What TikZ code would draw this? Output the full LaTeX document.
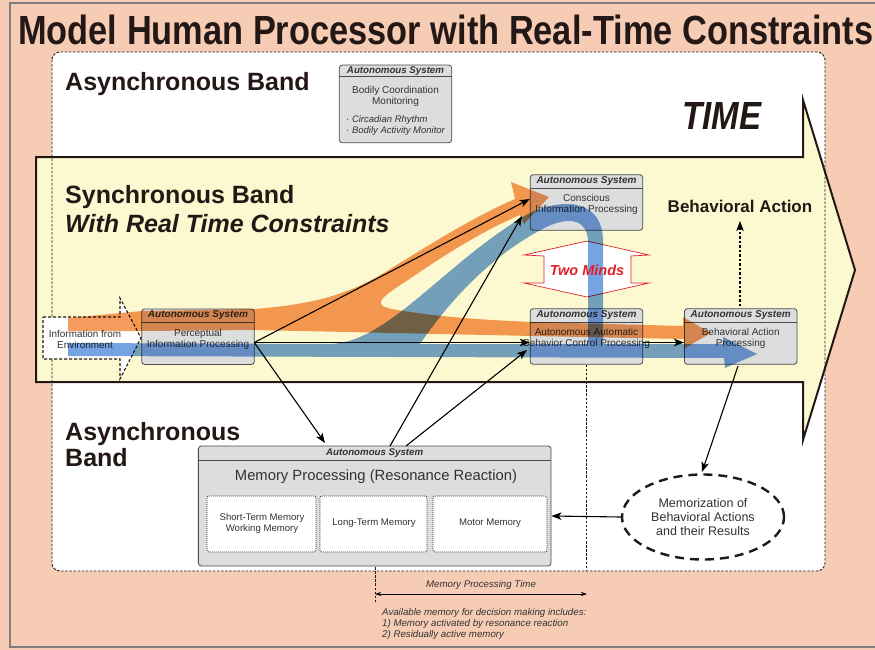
\documentclass[tikz,border=0pt]{standalone}
\usepackage{fontspec}
\usepackage{graphicx}
\setmainfont{Liberation Sans}
\usetikzlibrary{arrows.meta,shapes.geometric}
\definecolor{salmon}{RGB}{246,205,180}
\definecolor{bandyellow}{RGB}{252,249,208}
\definecolor{boxgray}{RGB}{220,221,221}
\definecolor{boxline}{RGB}{75,75,75}
\definecolor{framegray}{RGB}{125,125,125}
\definecolor{flowor}{RGB}{245,155,95}
\definecolor{flowbl}{RGB}{118,163,226}
\definecolor{mindred}{RGB}{225,30,40}
\definecolor{txtdark}{RGB}{35,24,21}
\definecolor{txtgray}{RGB}{50,50,50}
\tikzset{
  sysbox/.style={draw=boxline, fill=boxgray, rounded corners=3pt, line width=0.8pt, inner sep=0pt,
    minimum width=112.6pt, minimum height=55.6pt},
  hdrline/.style={draw=boxline, line width=0.8pt},
  hdr/.style={font=\fontsize{10}{12}\selectfont\bfseries\itshape, text=txtgray, inner sep=0pt},
  bodytxt/.style={font=\fontsize{10}{10.8}\selectfont, align=center, text=txtgray, inner sep=0pt},
  bigtxt/.style={font=\fontsize{25}{30}\selectfont\bfseries, text=txtdark, inner sep=0pt, anchor=base west},
  dashpat/.style={line width=0.9pt, dash pattern=on 2.5pt off 1.6pt, draw=txtdark},
  conn/.style={line width=1.1pt, draw=black, -{Stealth[length=10pt,width=7.5pt,inset=2.5pt]}},
  dotconn/.style={line width=1.1pt, draw=black, dash pattern=on 2.5pt off 2pt, -{Stealth[length=10pt,width=7.5pt,inset=2.5pt]}},
  memsub/.style={draw=txtgray, line width=0.7pt, dash pattern=on 1pt off 1pt, fill=white, rounded corners=2pt},
  memtxt/.style={font=\fontsize{9.6}{10.8}\selectfont, align=center, text=txtgray, inner sep=0pt},
  smallit/.style={font=\fontsize{9.7}{11}\selectfont\itshape, text=txtgray, inner sep=0pt},
}
\begin{document}
\begin{tikzpicture}[x=1pt,y=-1pt]
\useasboundingbox (0,0) rectangle (875,650);
\fill[salmon] (0,0) rectangle (875,650);
\draw[framegray, line width=2pt] (10,3) rectangle (890,647);
% title
\node[anchor=base west, inner sep=0pt, text=txtdark] (title) at (18,44.5)
  {\resizebox{855pt}{29.5pt}{\bfseries Model Human Processor with Real-Time Constraints}};
% white area
\fill[white, rounded corners=8pt] (52,52) rectangle (825,571);
% yellow band arrow
\draw[fill=bandyellow, line width=2pt, line join=miter, draw=txtdark]
  (36,157) -- (803,157) -- (803,100) -- (855,270) -- (803,440) -- (803,382) -- (36,382) -- cycle;
% dashed outline
\draw[dashpat, rounded corners=8pt] (52,52) rectangle (825,571);
% band texts
\node[bigtxt] (async1) at (65,91) {Asynchronous Band};
\node[bigtxt] (sync1) at (65,203) {Synchronous Band};
\node[bigtxt, font=\fontsize{25}{30}\selectfont\bfseries\itshape] (sync2) at (65,232) {With Real Time Constraints};
\node[bigtxt] (async2) at (65,440) {Asynchronous};
\node[bigtxt] (async3) at (65,466) {Band};
\node[anchor=base, inner sep=0pt, text=txtdark] (time) at (722,130)
  {\resizebox{79pt}{27pt}{\bfseries\itshape TIME}};
\node[anchor=base, inner sep=0pt, text=txtdark, font=\fontsize{17}{20}\selectfont\bfseries] (bact) at (740,212) {Behavioral Action};
% Bodily box
\node[sysbox, minimum width=112.4pt, minimum height=77.7pt] (bodily) at (395.5,103.9) {};
\draw[hdrline] ([yshift=-11.5pt]bodily.north west) -- ([yshift=-11.5pt]bodily.north east);
\node[hdr, font=\fontsize{9.7}{11}\selectfont\bfseries\itshape] (bodilyh) at ([yshift=-6pt]bodily.north) {Autonomous System};
\node[bodytxt] (bodilyt) at (395.5,96.5) {Bodily Coordination\\Monitoring};
\node[anchor=base west, inner sep=0pt, text=txtgray, font=\fontsize{9.5}{11}\selectfont] (bul1) at (346,122.5) {· \textit{Circadian Rhythm}};
\node[anchor=base west, inner sep=0pt, text=txtgray, font=\fontsize{9.5}{11}\selectfont] (bul2) at (346,133) {· \textit{Bodily Activity Monitor}};
% system boxes
\node[sysbox] (perc) at (198,336.7) {};
\node[sysbox] (consc) at (586.5,202.5) {};
\node[sysbox] (auto) at (586.5,336.5) {};
\node[sysbox] (behav) at (740.7,336.5) {};
\foreach \b in {perc,consc,auto,behav}{
  \draw[hdrline] ([yshift=-14pt]\b.north west) -- ([yshift=-14pt]\b.north east);
  \node[hdr] at ([yshift=-7pt]\b.north) {Autonomous System};
}
\node[bodytxt] (perct) at ([yshift=-2.5pt]perc.center) {Perceptual\\Information Processing};
\node[bodytxt] (consct) at ([yshift=-2.3pt]consc.center) {Conscious\\Information Processing};
\node[bodytxt] (autot) at ([yshift=-2.3pt]auto.center) {Autonomous Automatic\\Behavior Control Processing};
\node[bodytxt] (behavt) at ([yshift=-2.3pt]behav.center) {Behavioral Action\\Processing};
% dotted vertical
\coordinate (dvbot) at (586.5,571);
\draw[dashpat] (auto.south) -- (dvbot);
% information from environment
\draw[fill=white, line width=1.1pt, dash pattern=on 3pt off 2pt, draw=txtdark]
  (43,317) -- (120,317) -- (120,298) -- (141,338) -- (120,379) -- (120,359) -- (43,359) -- cycle;
\node[bodytxt, font=\fontsize{9.9}{11}\selectfont] (info) at (85,339.5) {Information from\\Environment};
% Two minds shape
\draw[mindred, line width=0.7pt, fill=white]
  (587,241) -- (649,255) -- (631,256) -- (631,283) -- (649,283) -- (587,297)
  -- (524,283) -- (544,283) -- (544,256) -- (524,255) -- cycle;
% flows
\begin{scope}[blend mode=multiply]
\fill[flowor] (68,318) -- (142,311) -- (254,309)
 .. controls (320,304) and (355,292) .. (395,266)
 .. controls (440,238) and (480,214) .. (515,199)
 -- (511,182) -- (549,197) -- (524,224) -- (520,215)
 .. controls (480,232) and (440,258) .. (405,282)
 .. controls (380,298) and (372,305) .. (392,309)
 .. controls (430,316) and (480,320) .. (533,322)
 -- (683,326) -- (683,317) -- (711,333) -- (685,348) -- (684,339)
 -- (533,336) -- (254,330) -- (142,331) -- (68,331) -- cycle;
\fill[flowbl, even odd rule] (68,343) -- (330,344)
 .. controls (388,343) and (445,262) .. (528,214)
 .. controls (555,200) and (600,195) .. (603,238) -- (603,344)
 -- (723,344) -- (723,337) -- (757,354) -- (725,368) -- (724,358) -- (68,356) -- cycle
 (420,344) -- (588,344) -- (588,240)
 .. controls (586,214) and (560,218) .. (537,232)
 .. controls (490,258) and (450,300) .. (420,344) -- cycle;
\end{scope}
\node[inner sep=0pt, text=mindred, font=\fontsize{14.5}{16}\selectfont\bfseries\itshape] (minds) at (587,270.5) {Two Minds};
% memory box
\node[sysbox, minimum width=352.7pt, minimum height=120pt] (memory) at (374.7,506) {};
\draw[hdrline] ([yshift=-14.7pt]memory.north west) -- ([yshift=-14.7pt]memory.north east);
\node[hdr, font=\fontsize{9.7}{11}\selectfont\bfseries\itshape] (memh) at ([yshift=-7.3pt]memory.north) {Autonomous System};
\node[inner sep=0pt, text=txtgray, font=\fontsize{14.8}{17}\selectfont] (memt) at (376,477) {Memory Processing (Resonance Reaction)};
\draw[memsub] (207,496) rectangle (316,552);
\draw[memsub] (320,496) rectangle (427,552);
\draw[memsub] (433,496) rectangle (547,552);
\node[memtxt] (stm) at (262,523.5) {Short-Term Memory\\Working Memory};
\node[memtxt] (ltm) at (374,523.5) {Long-Term Memory};
\node[memtxt] (mm) at (490,523.5) {Motor Memory};
% memorization ellipse
\node[ellipse, draw=txtdark, line width=2.4pt, dash pattern=on 9pt off 6pt, fill=white,
  minimum width=162pt, minimum height=85pt, inner sep=0pt, align=center, text=txtgray,
  font=\fontsize{12.5}{14}\selectfont] (memo) at (703,517) {Memorization of\\Behavioral Actions\\and their Results};
% connectors
\coordinate (pout) at (254.3,342.5);
\coordinate (mem1) at (390,446);
\coordinate (mem2) at (406,446);
\coordinate (memin) at (325,443);
\coordinate (consin2) at (522,216);
\coordinate (autoin2) at (527,350);
\coordinate (bactbot) at (740,221);
\coordinate (behtop) at (740,306);
\coordinate (behbot) at (738,366);
\coordinate (memotop) at (702,472);
\draw[conn] (pout) -- ([yshift=3.5pt]consc.west);
\draw[conn] (pout) -- ([yshift=-6pt]auto.west);
\draw[conn] (pout) -- (memin);
\draw[conn] (mem1) -- (consin2);
\draw[conn] (mem2) -- (autoin2);
\draw[conn] ([yshift=-6pt]auto.east) -- ([yshift=-6pt]behav.west);
\draw[dotconn] (behtop) -- (bactbot);
\draw[conn] (behbot) -- (memotop);
\draw[conn] (memo.west) -- ([yshift=-10pt]memory.east);
% memory processing time
\coordinate (mtl) at (375,594);
\coordinate (mtr) at (587,594);
\coordinate (mvt) at (375,567);
\coordinate (mvb) at (375,603);
\draw[dashpat] (mvt) -- (mvb);
\draw[line width=0.8pt, {Stealth[length=6pt,width=4pt]}-{Stealth[length=6pt,width=4pt]}] (mtl) -- (mtr);
\node[smallit, anchor=base] (mpt) at (481,587) {Memory Processing Time};
\node[smallit, anchor=base west] (av1) at (382,615.5) {Available memory for decision making includes:};
\node[smallit, anchor=base west] (av2) at (382,626.5) {1) Memory activated by resonance reaction};
\node[smallit, anchor=base west] (av3) at (382,637.5) {2) Residually active memory};
\end{tikzpicture}
\end{document}
